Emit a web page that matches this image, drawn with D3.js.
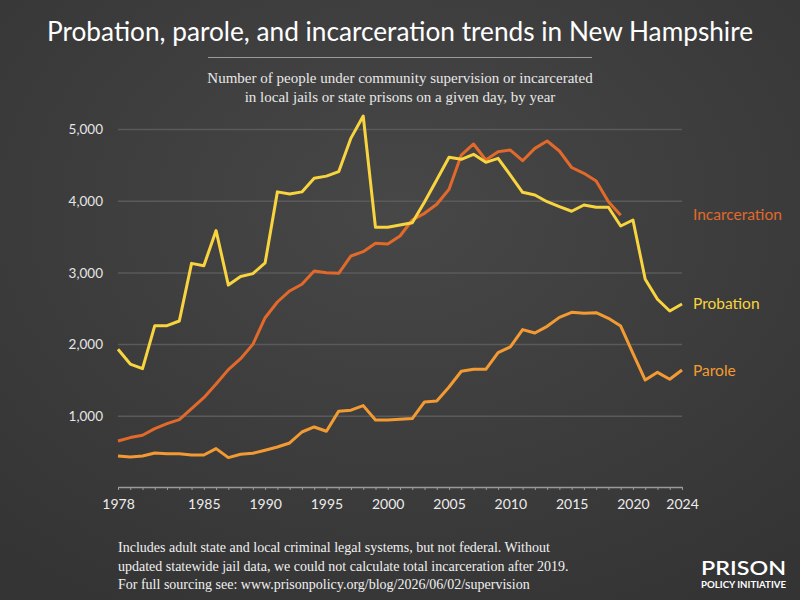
<!DOCTYPE html>
<html>
<head>
<meta charset="utf-8">
<script src="https://cdn.jsdelivr.net/npm/d3@7"></script>
<style>
  body { margin: 0; background: #3d3d3d; }
  svg { display: block; }
  .sans { font-family: "Lato", "Open Sans", sans-serif; }
  .serif { font-family: "Liberation Serif", "DejaVu Serif", serif; }
</style>
</head>
<body>
<div id="chart"></div>
<script>
// data
const years = d3.range(1978, 2025);
const probation = [1934, 1729, 1664, 2264, 2264, 2329, 3133, 3100, 3590, 2830,
    2950, 2990, 3140, 4130, 4100, 4130, 4320, 4350, 4412, 4880,
    5188, 3636, 3636, 3668, 3700, 3990, 4300, 4612, 4584, 4654,
    4542, 4598, 4365, 4124, 4087, 3993, 3924, 3860, 3947, 3915,
    3915, 3654, 3738, 2911, 2632, 2469, 2566];
// incarceration stops at 2019 (no statewide jail data after that)
const incarceration = [655, 703, 735, 828, 898, 954, 1107, 1260, 1450, 1651,
    1804, 2003, 2375, 2594, 2748, 2841, 3026, 3003, 2994, 3236,
    3296, 3412, 3403, 3515, 3738, 3831, 3957, 4166, 4644, 4798,
    4575, 4691, 4714, 4565, 4737, 4840, 4700, 4470, 4389, 4282,
    3993, 3803];
const parole = [446, 432, 446, 488, 479, 479, 460, 460, 549, 424,
    470, 484, 526, 572, 628, 781, 851, 791, 1072, 1086,
    1149, 948, 948, 958, 968, 1200, 1214, 1409, 1628, 1656,
    1656, 1889, 1967, 2209, 2162, 2255, 2380, 2450, 2436, 2445,
    2367, 2259, 1878, 1506, 1613, 1516, 1646];
const yTicks = [1000, 2000, 3000, 4000, 5000];
const xLabels = [1978, 1985, 1990, 1995, 2000, 2005, 2010, 2015, 2020, 2024];
const seriesNames = ["Incarceration", "Probation", "Parole"];
const seriesColors = ["#e2692a", "#f8d43f", "#f39b32"];
const titleText = "Probation, parole, and incarceration trends in New Hampshire";
const subtitleLines = ["Number of people under community supervision or incarcerated",
    "in local jails or state prisons on a given day, by year"];
const footerLines = ["Includes adult state and local criminal legal systems, but not federal. Without",
    "updated statewide jail data, we could not calculate total incarceration after 2019.",
    "For full sourcing see: www.prisonpolicy.org/blog/2026/06/02/supervision"];

const W = 800, H = 600;
const svg = d3.select("#chart").append("svg")
    .attr("width", W)
    .attr("height", H);

// background with a soft glow
const defs = svg.append("defs");
const grad = defs.append("radialGradient")
    .attr("id", "bg")
    .attr("cx", "50%").attr("cy", "35%").attr("r", "75%");
grad.append("stop").attr("offset", "0%").attr("stop-color", "#474747");
grad.append("stop").attr("offset", "100%").attr("stop-color", "#343434");
svg.append("rect").attr("width", W).attr("height", H).attr("fill", "url(#bg)");

// title + rule + subtitle
svg.append("text")
    .attr("class", "sans")
    .attr("x", 400).attr("y", 41)
    .attr("text-anchor", "middle")
    .attr("fill", "#ffffff")
    .style("font-size", "26px")
    .attr("textLength", 706)
    .attr("lengthAdjust", "spacingAndGlyphs")
    .text(titleText);

svg.append("line")
    .attr("x1", 208).attr("x2", 592)
    .attr("y1", 57.5).attr("y2", 57.5)
    .attr("stroke", "#9a9a9a")
    .attr("stroke-width", 1);

svg.selectAll(".subtitle")
    .data(subtitleLines)
    .enter().append("text")
    .attr("class", "subtitle serif")
    .attr("x", 400)
    .attr("y", (d, i) => 83 + i * 19)
    .attr("text-anchor", "middle")
    .attr("fill", "#e8e8e8")
    .style("font-size", "15px")
    .text(d => d);

// scales
const x = d3.scaleLinear().domain([1978, 2024]).range([118, 682]);
const y = d3.scaleLinear().domain([0, 5000]).range([488, 129.5]);

// gridlines
svg.append("g").selectAll("line")
    .data(yTicks)
    .enter().append("line")
    .attr("x1", x(1978)).attr("x2", x(2024))
    .attr("y1", d => y(d)).attr("y2", d => y(d))
    .attr("stroke", "#5a5a5a")
    .attr("stroke-width", 1.5);

// y labels
svg.append("g").selectAll("text")
    .data(yTicks)
    .enter().append("text")
    .attr("class", "sans")
    .attr("x", 103)
    .attr("y", d => y(d))
    .attr("dy", "0.35em")
    .attr("text-anchor", "end")
    .attr("fill", "#e6e6e6")
    .style("font-size", "13.5px")
    .text(d => d3.format(",")(d));

// x axis: one small tick every year, labels on a few
const xAxis = d3.axisBottom(x)
    .tickValues(years)
    .tickSize(3)
    .tickSizeOuter(0)
    .tickFormat(d => xLabels.includes(d) ? d : "");
const gx = svg.append("g")
    .attr("transform", `translate(0, ${y(0) - 1})`)
    .call(xAxis);
gx.select(".domain").attr("stroke", "#9a9a9a").attr("stroke-width", 1.5);
gx.selectAll(".tick line").attr("stroke", "#9a9a9a");
gx.selectAll(".tick text")
    .attr("class", "sans")
    .attr("fill", "#ececec")
    .attr("y", 12)
    .style("font-size", "14px");

// lines
const seriesData = [incarceration, probation, parole];
const line = d3.line()
    .x((d, i) => x(years[i]))
    .y(d => y(d));

// draw parole first, then incarceration, probation on top
[2, 0, 1].forEach(k => {
    svg.append("path")
        .datum(seriesData[k])
        .attr("fill", "none")
        .attr("stroke", seriesColors[k])
        .attr("stroke-width", 3)
        .attr("stroke-linejoin", "round")
        .attr("d", line);
});

// series labels
const labelY = [215, 304, 371];
svg.append("g").selectAll("text")
    .data(seriesNames)
    .enter().append("text")
    .attr("class", "sans")
    .attr("x", 693)
    .attr("y", (d, i) => labelY[i])
    .attr("dy", "0.35em")
    .attr("fill", (d, i) => seriesColors[i])
    .style("font-size", "15.5px")
    .text(d => d);

// footer
svg.selectAll(".footer")
    .data(footerLines)
    .enter().append("text")
    .attr("class", "footer serif")
    .attr("x", 118)
    .attr("y", (d, i) => 552 + i * 18.5)
    .attr("fill", "#f0f0f0")
    .style("font-size", "14px")
    .text(d => d);

// logo
svg.append("text")
    .attr("class", "sans")
    .attr("x", 786).attr("y", 574.5)
    .attr("text-anchor", "end")
    .attr("fill", "#ffffff")
    .style("font-size", "20px")
    .style("font-weight", "600")
    .attr("textLength", 85)
    .attr("lengthAdjust", "spacingAndGlyphs")
    .text("PRISON");
svg.append("text")
    .attr("class", "sans")
    .attr("x", 786).attr("y", 588)
    .attr("text-anchor", "end")
    .attr("fill", "#ffffff")
    .style("font-size", "8.5px")
    .style("font-weight", "bold")
    .attr("textLength", 85)
    .attr("lengthAdjust", "spacingAndGlyphs")
    .text("POLICY INITIATIVE");
</script>
</body>
</html>
